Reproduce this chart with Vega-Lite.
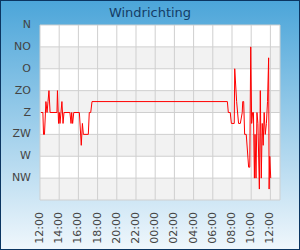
{
  "$schema": "https://vega.github.io/schema/vega-lite/v6.json",
  "width": 300,
  "height": 250,
  "autosize": "none",
  "padding": 0,
  "title": {"text": "Windrichting", "fontSize": 13, "font": "DejaVu Sans", "fontWeight": "normal", "color": "#143c66", "anchor": "middle", "frame": "group", "offset": -20},
  "datasets": {
    "bands": [
      {"kind": "plot", "t0": "2024-05-01T12:00", "t1": "2024-05-02T13:00", "lo": 0, "hi": 360},
      {"kind": "band", "t0": "2024-05-01T12:00", "t1": "2024-05-02T13:00", "lo": 45, "hi": 90},
      {"kind": "band", "t0": "2024-05-01T12:00", "t1": "2024-05-02T13:00", "lo": 135, "hi": 180},
      {"kind": "band", "t0": "2024-05-01T12:00", "t1": "2024-05-02T13:00", "lo": 225, "hi": 270},
      {"kind": "band", "t0": "2024-05-01T12:00", "t1": "2024-05-02T13:00", "lo": 315, "hi": 360}
    ],
    "hgrid": [
      {"v": 0, "name": "N"}, {"v": 45, "name": "NO"}, {"v": 90, "name": "O"}, {"v": 135, "name": "ZO"},
      {"v": 180, "name": "Z"}, {"v": 225, "name": "ZW"}, {"v": 270, "name": "W"}, {"v": 315, "name": "NW"}, {"v": 360, "name": ""}
    ],
    "vgrid": [
      {"t": "2024-05-01T12:00"}, {"t": "2024-05-01T14:00"}, {"t": "2024-05-01T16:00"}, {"t": "2024-05-01T18:00"},
      {"t": "2024-05-01T20:00"}, {"t": "2024-05-01T22:00"}, {"t": "2024-05-02T00:00"}, {"t": "2024-05-02T02:00"},
      {"t": "2024-05-02T04:00"}, {"t": "2024-05-02T06:00"}, {"t": "2024-05-02T08:00"}, {"t": "2024-05-02T10:00"},
      {"t": "2024-05-02T12:00"}, {"t": "2024-05-02T13:00"}
    ],
    "xticks": [
      {"t": "2024-05-01T12:00"}, {"t": "2024-05-01T14:00"}, {"t": "2024-05-01T16:00"}, {"t": "2024-05-01T18:00"},
      {"t": "2024-05-01T20:00"}, {"t": "2024-05-01T22:00"}, {"t": "2024-05-02T00:00"}, {"t": "2024-05-02T02:00"},
      {"t": "2024-05-02T04:00"}, {"t": "2024-05-02T06:00"}, {"t": "2024-05-02T08:00"}, {"t": "2024-05-02T10:00"},
      {"t": "2024-05-02T12:00"}
    ],
    "wind": [
      {"time": "2024-05-01T12:06", "dir": 180},
      {"time": "2024-05-01T12:18", "dir": 180},
      {"time": "2024-05-01T12:22", "dir": 225},
      {"time": "2024-05-01T12:28", "dir": 225},
      {"time": "2024-05-01T12:37", "dir": 157.5},
      {"time": "2024-05-01T12:44", "dir": 180},
      {"time": "2024-05-01T12:50", "dir": 157.5},
      {"time": "2024-05-01T12:56", "dir": 135},
      {"time": "2024-05-01T13:03", "dir": 180},
      {"time": "2024-05-01T13:46", "dir": 180},
      {"time": "2024-05-01T13:49", "dir": 135},
      {"time": "2024-05-01T13:56", "dir": 202.5},
      {"time": "2024-05-01T14:01", "dir": 180},
      {"time": "2024-05-01T14:05", "dir": 202.5},
      {"time": "2024-05-01T14:11", "dir": 180},
      {"time": "2024-05-01T14:17", "dir": 157.5},
      {"time": "2024-05-01T14:24", "dir": 202.5},
      {"time": "2024-05-01T14:30", "dir": 180},
      {"time": "2024-05-01T15:07", "dir": 180},
      {"time": "2024-05-01T15:14", "dir": 202.5},
      {"time": "2024-05-01T15:18", "dir": 180},
      {"time": "2024-05-01T15:24", "dir": 202.5},
      {"time": "2024-05-01T15:31", "dir": 180},
      {"time": "2024-05-01T16:06", "dir": 180},
      {"time": "2024-05-01T16:18", "dir": 247.5},
      {"time": "2024-05-01T16:25", "dir": 202.5},
      {"time": "2024-05-01T16:31", "dir": 225},
      {"time": "2024-05-01T17:02", "dir": 225},
      {"time": "2024-05-01T17:08", "dir": 180},
      {"time": "2024-05-01T17:17", "dir": 180},
      {"time": "2024-05-01T17:25", "dir": 157.5},
      {"time": "2024-05-02T07:31", "dir": 157.5},
      {"time": "2024-05-02T07:37", "dir": 180},
      {"time": "2024-05-02T07:49", "dir": 180},
      {"time": "2024-05-02T07:56", "dir": 202.5},
      {"time": "2024-05-02T08:14", "dir": 202.5},
      {"time": "2024-05-02T08:17", "dir": 90},
      {"time": "2024-05-02T08:29", "dir": 157.5},
      {"time": "2024-05-02T08:41", "dir": 202.5},
      {"time": "2024-05-02T08:52", "dir": 202.5},
      {"time": "2024-05-02T09:04", "dir": 180},
      {"time": "2024-05-02T09:07", "dir": 157.5},
      {"time": "2024-05-02T09:13", "dir": 157.5},
      {"time": "2024-05-02T09:19", "dir": 225},
      {"time": "2024-05-02T09:29", "dir": 225},
      {"time": "2024-05-02T09:44", "dir": 292.5},
      {"time": "2024-05-02T09:51", "dir": 292.5},
      {"time": "2024-05-02T09:57", "dir": 45},
      {"time": "2024-05-02T10:03", "dir": 202.5},
      {"time": "2024-05-02T10:09", "dir": 180},
      {"time": "2024-05-02T10:14", "dir": 180},
      {"time": "2024-05-02T10:20", "dir": 315},
      {"time": "2024-05-02T10:24", "dir": 225},
      {"time": "2024-05-02T10:30", "dir": 315},
      {"time": "2024-05-02T10:36", "dir": 180},
      {"time": "2024-05-02T10:42", "dir": 202.5},
      {"time": "2024-05-02T10:51", "dir": 337.5},
      {"time": "2024-05-02T10:57", "dir": 135},
      {"time": "2024-05-02T11:03", "dir": 315},
      {"time": "2024-05-02T11:09", "dir": 202.5},
      {"time": "2024-05-02T11:15", "dir": 247.5},
      {"time": "2024-05-02T11:21", "dir": 180},
      {"time": "2024-05-02T11:28", "dir": 225},
      {"time": "2024-05-02T11:35", "dir": 202.5},
      {"time": "2024-05-02T11:42", "dir": 157.5},
      {"time": "2024-05-02T11:49", "dir": 67.5},
      {"time": "2024-05-02T11:52", "dir": 337.5},
      {"time": "2024-05-02T11:56", "dir": 270},
      {"time": "2024-05-02T12:02", "dir": 315}
    ]
  },
  "resolve": {"scale": {"x": "shared", "y": "shared"}},
  "layer": [
    {
      "data": {"name": "bands"},
      "mark": {"type": "rect"},
      "encoding": {
        "x": {"field": "t0", "type": "temporal",
          "scale": {"domain": [{"year": 2024, "month": 5, "date": 1, "hours": 7, "minutes": 50}, {"year": 2024, "month": 5, "date": 2, "hours": 15, "minutes": 5}], "nice": false},
          "axis": null
        },
        "x2": {"field": "t1"},
        "y": {"field": "lo", "type": "quantitative",
          "scale": {"domain": [-51.4286, 462.857], "reverse": true, "nice": false, "zero": false},
          "axis": null
        },
        "y2": {"field": "hi"},
        "color": {"field": "kind", "type": "nominal", "scale": {"domain": ["plot", "band"], "range": ["#ffffff", "#f2f2f2"]}, "legend": null}
      }
    },
    {
      "data": {"name": "hgrid"},
      "mark": {"type": "rule", "color": "#cfcfcf", "strokeWidth": 1},
      "encoding": {
        "y": {"field": "v", "type": "quantitative", "axis": null},
        "x": {"datum": {"year": 2024, "month": 5, "date": 1, "hours": 12}, "type": "temporal", "axis": null},
        "x2": {"datum": {"year": 2024, "month": 5, "date": 2, "hours": 13}}
      }
    },
    {
      "data": {"name": "vgrid"},
      "mark": {"type": "rule", "color": "#cfcfcf", "strokeWidth": 1},
      "encoding": {
        "x": {"field": "t", "type": "temporal", "axis": null},
        "y": {"datum": 0, "type": "quantitative", "axis": null},
        "y2": {"datum": 360}
      }
    },
    {
      "data": {"name": "hgrid"},
      "mark": {"type": "text", "align": "right", "baseline": "middle", "dx": -9, "fontSize": 11, "font": "DejaVu Sans", "color": "#444444"},
      "encoding": {
        "y": {"field": "v", "type": "quantitative", "axis": null},
        "x": {"datum": {"year": 2024, "month": 5, "date": 1, "hours": 12}, "type": "temporal", "axis": null},
        "text": {"field": "name", "type": "nominal"}
      }
    },
    {
      "data": {"name": "xticks"},
      "mark": {"type": "text", "align": "right", "baseline": "middle", "angle": 270, "dx": -12, "fontSize": 11, "font": "DejaVu Sans", "color": "#444444"},
      "encoding": {
        "x": {"field": "t", "type": "temporal", "axis": null},
        "y": {"datum": 360, "type": "quantitative", "axis": null},
        "text": {"field": "t", "type": "temporal", "format": "%H:%M"}
      }
    },
    {
      "data": {"name": "wind"},
      "mark": {"type": "line", "color": "#ff0000", "strokeWidth": 1},
      "encoding": {
        "x": {"field": "time", "type": "temporal", "axis": null},
        "y": {"field": "dir", "type": "quantitative", "axis": null}
      }
    }
  ],
  "config": {
    "font": "DejaVu Sans",
    "view": {
      "fill": {"gradient": "linear", "x1": 0, "y1": 0, "x2": 0, "y2": 1, "stops": [{"offset": 0, "color": "#4ba5d9"}, {"offset": 1, "color": "#f0f7fc"}]},
      "stroke": "#0b3561",
      "strokeWidth": 2
    }
  }
}
